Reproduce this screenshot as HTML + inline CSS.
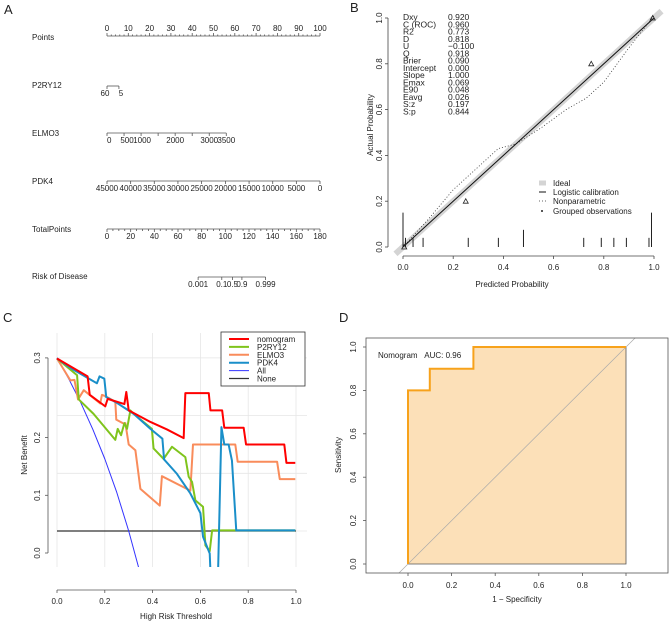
<!DOCTYPE html>
<html><head><meta charset="utf-8"><style>
html,body{margin:0;padding:0;background:#fff}
svg{display:block;font-family:"Liberation Sans",Arial,sans-serif}
text{fill:#222}
</style></head><body>
<svg id="fig" width="669" height="622" viewBox="0 0 669 622" xmlns="http://www.w3.org/2000/svg">
<text x="4" y="14" font-size="13">A</text>
<text x="350" y="12" font-size="13">B</text>
<text x="3" y="322" font-size="13">C</text>
<text x="339" y="322" font-size="13">D</text>
<g id="pa"></g>
<g id="pb"></g>
<g id="pc"></g>
<g id="pd"></g>
</svg>
<script>
// ---------- Panel A data (nomogram) ----------
const pointsTicks = [0,10,20,30,40,50,60,70,80,90,100];
const p2ry12Vals = ["60","5"]; const p2ry12Pts = [0,5.6];
const elmo3Vals = ["0","500","1000","1500","2000","2500","3000","3500"];
const elmo3Pts = [0,8,16,24,32,40,48,56];
const elmo3Shown = [true,true,true,false,true,false,true,true];
const pdk4Vals = ["45000","40000","35000","30000","25000","20000","15000","10000","5000","0"];
const pdk4Pts = [0,11.1,22.2,33.3,44.4,55.6,66.7,77.8,88.9,100];
const totalTicks = [0,20,40,60,80,100,120,140,160,180];
const riskVals = ["0.001","0.1","0.5","0.9","0.999"];
const riskTotal = [77,97,106,114,134];

// ---------- Panel B data (calibration) ----------
const statNames = ["Dxy","C (ROC)","R2","D","U","Q","Brier","Intercept","Slope","Emax","E90","Eavg","S:z","S:p"];
const statVals = ["0.920","0.960","0.773","0.818","\u22120.100","0.918","0.090","0.000","1.000","0.069","0.048","0.026","0.197","0.844"];
const calTicks = [0,0.2,0.4,0.6,0.8,1.0];
const npX = [0,0.1,0.2,0.3,0.38,0.45,0.55,0.65,0.73,0.8,0.9,1.0];
const npY = [0,0.12,0.25,0.35,0.43,0.45,0.52,0.6,0.65,0.72,0.87,1.01];
const grpX = [0.005,0.25,0.75,0.995];
const grpY = [0.0,0.2,0.8,1.0];
const rugX = [0.0,0.01,0.04,0.08,0.26,0.38,0.48,0.72,0.79,0.84,0.89,0.98,0.99];
const rugH = [0.15,0.04,0.04,0.04,0.04,0.04,0.075,0.04,0.04,0.04,0.04,0.04,0.15];

// ---------- Panel C data (decision curve) ----------
const dcaXTicks = [0,0.2,0.4,0.6,0.8,1.0];
const dcaYTicks = [0.0,0.1,0.2,0.3];
const nomoT = [0,.128,.137,.202,.212,.282,.290,.300,.391,.460,.530,.537,.635,.642,.691,.700,.781,.791,.951,.960,.997];
const nomoV = [.299,.268,.236,.216,.229,.220,.241,.209,.189,.176,.161,.239,.239,.209,.209,.179,.179,.150,.150,.118,.118];
const p2T = [0,.084,.091,.153,.244,.254,.268,.282,.293,.307,.321,.397,.404,.446,.481,.537,.551,.565,.579,.611,.621,.639,.649,.997];
const p2V = [.299,.270,.228,.203,.158,.177,.166,.187,.177,.209,.203,.177,.143,.125,.146,.128,.094,.085,.053,.042,-.025,-.035,.001,.001];
const elT = [0,.056,.073,.088,.112,.181,.188,.206,.244,.248,.279,.286,.300,.328,.349,.430,.439,.558,.569,.746,.756,.921,.932,.997];
const elV = [.299,.261,.262,.228,.244,.221,.236,.233,.224,.193,.186,.187,.150,.140,.073,.044,.095,.070,.150,.150,.120,.120,.090,.090];
const pdT = [0,.063,.167,.178,.198,.206,.251,.321,.391,.441,.448,.502,.558,.600,.611,.639,.642,.674,.688,.700,.718,.732,.750,.997];
const pdV = [.299,.281,.256,.268,.264,.232,.222,.203,.177,.160,.124,.099,.065,.031,-.010,-.039,-.070,-.070,.180,.150,.150,.122,.001,.001];
const allT = [0,.05,.1,.15,.2,.25,.3,.342];
const allV = [.3,.263,.222,.176,.125,.067,0,-.064];
const noneT = [0,1]; const noneV = [0,0];
const seriesNames = ["nomogram","P2RY12","ELMO3","PDK4","All","None"];

// ---------- Panel D data (ROC) ----------
const rocFpr = [0,0,0.1,0.1,0.3,0.3,1];
const rocTpr = [0,0.8,0.8,0.9,0.9,1,1];
const rocTicks = [0,0.2,0.4,0.6,0.8,1.0];

const NS="http://www.w3.org/2000/svg";
function mk(parent,tag,attrs,txt){const e=document.createElementNS(NS,tag);for(const k in attrs)e.setAttribute(k,attrs[k]);if(txt!==undefined)e.textContent=txt;parent.appendChild(e);return e;}
function ln(p,x1,y1,x2,y2,st,w){return mk(p,'line',{x1,y1,x2,y2,stroke:st||'#555','stroke-width':w||0.8});}

// ===== Panel A =====
const A=document.getElementById('pa');
const ax=v=>107+v*2.13;
const tx=v=>107+v*213/180;
function rowLabel(t,y,n){const e=mk(A,'text',{x:32,y:y,'font-size':8});e.textContent=t;}
rowLabel('Points',40,'points-label');
ln(A,ax(0),36,ax(100),36);
for(let i=0;i<=100;i+=2){ln(A,ax(i),36,ax(i),i%10===0?33:34.5);}
pointsTicks.forEach(v=>{const e=mk(A,'text',{x:ax(v),y:31,'font-size':8,'text-anchor':'middle'},String(v));});
rowLabel('P2RY12',88,'p2ry12-label');
ln(A,ax(p2ry12Pts[0]),86,ax(p2ry12Pts[1]),86);
p2ry12Pts.forEach((p,i)=>{ln(A,ax(p),86,ax(p),89);const e=mk(A,'text',{x:ax(p)+(i===0?-2:2),y:96,'font-size':8,'text-anchor':'middle'},p2ry12Vals[i]);});
rowLabel('ELMO3',136,'elmo3-label');
ln(A,ax(0),133,ax(56),133);
elmo3Pts.forEach((p,i)=>{ln(A,ax(p),133,ax(p),136);if(elmo3Shown[i]){const e=mk(A,'text',{x:ax(p)+(i===1?3:(i===2?1:0)),y:143,'font-size':8,'text-anchor':i===0?'start':'middle'},elmo3Vals[i]);}});
rowLabel('PDK4',184,'pdk4-label');
ln(A,ax(0),181,ax(100),181);
pdk4Pts.forEach((p,i)=>{ln(A,ax(p),181,ax(p),184);const e=mk(A,'text',{x:ax(p),y:191,'font-size':8,'text-anchor':'middle'},pdk4Vals[i]);});
rowLabel('TotalPoints',232,'total-points-label');
ln(A,tx(0),229,tx(180),229);
for(let i=0;i<=180;i+=5){ln(A,tx(i),229,tx(i),i%20===0?232:231);}
totalTicks.forEach(v=>{const e=mk(A,'text',{x:tx(v),y:239,'font-size':8,'text-anchor':'middle'},String(v));});
rowLabel('Risk of Disease',279,'risk-label');
ln(A,tx(riskTotal[0]),277,tx(riskTotal[4]),277);
riskTotal.forEach((p,i)=>{ln(A,tx(p),277,tx(p),280);const e=mk(A,'text',{x:tx(p),y:287,'font-size':8,'text-anchor':'middle'},riskVals[i]);});

// ===== Panel B =====
const B=document.getElementById('pb');
const bx=p=>403+p*251, by=p=>247-p*229;
ln(B,bx(-0.03),by(-0.03),bx(1.03),by(1.03),'#d4d4d4',6);
const np=mk(B,'polyline',{points:npX.map((x,i)=>bx(x)+','+by(npY[i])).join(' '),fill:'none',stroke:'#333','stroke-width':0.8,'stroke-dasharray':'1,2'});

const lg=ln(B,bx(0),by(0),bx(1),by(1),'#111',1);

rugX.forEach((x,i)=>{const r=ln(B,bx(x),by(0),bx(x),by(rugH[i]),'#222',1);});
grpX.forEach((x,i)=>{const X=bx(x),Y=by(grpY[i]);const t=mk(B,'polygon',{points:`${X},${Y-2.5} ${X-2.5},${Y+2} ${X+2.5},${Y+2}`,fill:'none',stroke:'#222','stroke-width':0.8});});
ln(B,388,by(0),388,by(1),'#444',0.8);
ln(B,bx(0),256,bx(1),256,'#444',0.8);
calTicks.forEach(v=>{ln(B,388,by(v),385,by(v),'#444');ln(B,bx(v),256,bx(v),259,'#444');
 const t1=mk(B,'text',{x:382,y:by(v),'font-size':8,'text-anchor':'middle',transform:`rotate(-90 382 ${by(v)})`},v.toFixed(1));
 const t2=mk(B,'text',{x:bx(v),y:270,'font-size':8,'text-anchor':'middle'},v.toFixed(1));});
const bxt=mk(B,'text',{x:512,y:287,'font-size':8,'text-anchor':'middle'},'Predicted Probability');
const byt=mk(B,'text',{x:373,y:125,'font-size':8,'text-anchor':'middle',transform:'rotate(-90 373 125)'},'Actual Probability');
statNames.forEach((n,i)=>{const y=20+i*7.25;mk(B,'text',{x:403,y:y,'font-size':8.5},n);mk(B,'text',{x:448,y:y,'font-size':8.5},statVals[i]);});
const lgB=mk(B,'g',{});
ln(lgB,539,183,546,183,'#d4d4d4',5);mk(lgB,'text',{x:553,y:186,'font-size':8},'Ideal');
ln(lgB,539,192,546,192,'#111',1);mk(lgB,'text',{x:553,y:195,'font-size':8},'Logistic calibration');
ln(lgB,539,201,546,201,'#333',0.8).setAttribute('stroke-dasharray','1,2');mk(lgB,'text',{x:553,y:204,'font-size':8},'Nonparametric');
mk(lgB,'circle',{cx:542,cy:211,r:1,fill:'#222'});mk(lgB,'text',{x:553,y:214,'font-size':8},'Grouped observations');

// ===== Panel C =====
const C=document.getElementById('pc');
const cx=t=>57+t*239, cy=v=>531-v*577;
mk(C,'clipPath',{id:'cclip'}).appendChild(document.createElementNS(NS,'rect'));
const cr=C.querySelector('#cclip rect');cr.setAttribute('x',40);cr.setAttribute('y',330);cr.setAttribute('width',270);cr.setAttribute('height',237);
dcaXTicks.forEach(t=>ln(C,cx(t),333,cx(t),567,'#e6e6e6',0.8));
dcaYTicks.forEach(v=>ln(C,57,cy(v),307,cy(v),'#e6e6e6',0.8));
const cg=mk(C,'g',{'clip-path':'url(#cclip)'});
const colors=['#ff0000','#7fc41c','#f98c5b','#1a8fc9','#3333ff','#333333'];
const widths=[2,2,2,2,1,1.2];
const ts=[nomoT,p2T,elT,pdT,allT,noneT], vs=[nomoV,p2V,elV,pdV,allV,noneV];
[5,4,2,1,3,0].forEach(k=>{const pl=mk(cg,'polyline',{points:ts[k].map((t,i)=>cx(t)+','+cy(vs[k][i])).join(' '),fill:'none',stroke:colors[k],'stroke-width':widths[k],'stroke-linejoin':'round'});
 });
ln(C,48,cy(0.3),48,553,'#555',0.8);
dcaYTicks.forEach(v=>{const y=v>=0.3?cy(v):cy(v)+22;ln(C,48,y,45,y,'#555');const t=mk(C,'text',{x:40,y:y,'font-size':8,'text-anchor':'middle',transform:`rotate(-90 40 ${y})`},v.toFixed(1));});
ln(C,cx(0),590,cx(1),590,'#555',0.8);
dcaXTicks.forEach(t=>{ln(C,cx(t),590,cx(t),593,'#555');const e=mk(C,'text',{x:cx(t),y:604,'font-size':8,'text-anchor':'middle'},t.toFixed(1));});
const cxt=mk(C,'text',{x:176,y:619,'font-size':8,'text-anchor':'middle'},'High Risk Threshold');
const cyt=mk(C,'text',{x:27,y:455,'font-size':8,'text-anchor':'middle',transform:'rotate(-90 27 455)'},'Net Benefit');
const lc=mk(C,'g',{});
mk(lc,'rect',{x:221,y:332,width:84,height:54,fill:'#fff',stroke:'#333','stroke-width':0.8});
seriesNames.forEach((n,i)=>{const y=339+i*7.9;ln(lc,229,y,249,y,colors[i],widths[i]);const t=mk(lc,'text',{x:257,y:y+3,'font-size':8},n);});

// ===== Panel D =====
const D=document.getElementById('pd');
const dx=f=>408+f*218, dy=s=>564-s*217;
mk(D,'clipPath',{id:'dclip'}).appendChild(document.createElementNS(NS,'rect'));
const dr=D.querySelector('#dclip rect');dr.setAttribute('x',366);dr.setAttribute('y',338);dr.setAttribute('width',302);dr.setAttribute('height',235);
const fillPts=rocFpr.map((f,i)=>dx(f)+','+dy(rocTpr[i])).concat([dx(1)+','+dy(0)]).join(' ');
const fl=mk(D,'polygon',{points:fillPts,fill:'#fce0b8',stroke:'#555','stroke-width':0.8});
const dg=ln(D,dx(-0.2),dy(-0.2),dx(1.2),dy(1.2),'#aaa',0.7);dg.setAttribute('clip-path','url(#dclip)');
const rc=mk(D,'polyline',{points:rocFpr.map((f,i)=>dx(f)+','+dy(rocTpr[i])).join(' '),fill:'none',stroke:'#f7a21b','stroke-width':2});

mk(D,'rect',{x:366,y:338,width:302,height:235,fill:'none',stroke:'#555','stroke-width':0.8});
rocTicks.forEach(v=>{ln(D,366,dy(v),363,dy(v),'#555');ln(D,dx(v),573,dx(v),576,'#555');
 const t1=mk(D,'text',{x:356,y:dy(v),'font-size':8,'text-anchor':'middle',transform:`rotate(-90 356 ${dy(v)})`},v.toFixed(1));
 const t2=mk(D,'text',{x:dx(v),y:588,'font-size':8,'text-anchor':'middle'},v.toFixed(1));});
const dxt=mk(D,'text',{x:517,y:602,'font-size':8,'text-anchor':'middle'},'1 \u2212 Specificity');
const dyt=mk(D,'text',{x:341,y:455,'font-size':8,'text-anchor':'middle',transform:'rotate(-90 341 455)'},'Sensitivity');
const au=mk(D,'text',{x:378,y:358,'font-size':8},'Nomogram\u00a0\u00a0\u00a0AUC: 0.96');
</script>
</body></html>
